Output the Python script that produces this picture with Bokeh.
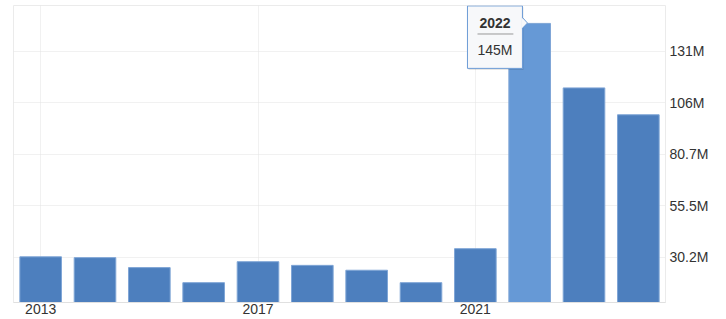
from bokeh.plotting import figure
from bokeh.models import FixedTicker, ColumnDataSource, Range1d
from bokeh.core.properties import value
from bokeh.embed import file_html
from bokeh.resources import INLINE

# ---- data (millions) ----
years = [2013, 2014, 2015, 2016, 2017, 2018, 2019, 2020, 2021, 2022, 2023, 2024]
values = [30.3, 29.9, 25.0, 17.6, 27.9, 26.1, 23.7, 17.6, 34.3, 145.0, 113.3, 100.1]
highlight_year = 2022
x_ticks = [2013, 2017, 2021]
y_ticks = [30.2, 55.45, 80.7, 105.95, 131.2]
y_tick_labels = ["30.2M", "55.5M", "80.7M", "106M", "131M"]

BAR = "#4d7fbe"
BAR_HI = "#6699d6"
FONT = "Liberation Sans"
TXT = "#333333"

colors = [BAR_HI if y == highlight_year else BAR for y in years]
src = ColumnDataSource(dict(year=years, value=values, color=colors))

p = figure(width=726, height=319,
           x_range=Range1d(2012.5, 2024.5), y_range=Range1d(7.85, 153.8),
           y_axis_location="right", output_backend="svg", toolbar_location=None,
           min_border_left=13, min_border_top=5, min_border_right=61, min_border_bottom=17)

p.vbar(x="year", top="value", bottom=0, width=0.766, source=src,
       fill_color="color", line_color="#7fa5d6", line_width=1)

# axes
p.xaxis.ticker = FixedTicker(ticks=x_ticks)
p.yaxis.ticker = FixedTicker(ticks=y_ticks)
p.yaxis.major_label_overrides = {t: l for t, l in zip(y_ticks, y_tick_labels)}
for ax in (p.xaxis, p.yaxis):
    ax.major_label_text_font = FONT
    ax.major_label_text_font_size = "14px"
    ax.major_label_text_color = TXT
    ax.major_tick_line_color = None
    ax.minor_tick_line_color = None
    ax.major_tick_out = 0
    ax.major_tick_in = 0
p.xaxis.axis_line_color = "#e0e0e0"
p.xaxis.major_label_standoff = 1
p.yaxis.axis_line_color = None
p.yaxis.major_label_standoff = 4

p.xgrid.ticker = FixedTicker(ticks=x_ticks)
p.ygrid.ticker = FixedTicker(ticks=y_ticks)
p.grid.grid_line_color = "#e3e3e3"
p.grid.grid_line_dash = "1 1"
p.outline_line_color = "#ebebeb"

# ---- tooltip anchored on the highlighted bar ----
hx = highlight_year
hv = values[years.index(highlight_year)]
box_l, box_r = hx - 1.145, hx - 0.133
box_t, box_b = hv + 8.6, hv - 22.1
# shadow
p.quad(left=[box_l + 0.02], right=[box_r + 0.02], top=[box_t - 0.6], bottom=[box_b - 0.8],
       fill_color="#000000", fill_alpha=0.10, line_color=None)
p.quad(left=[box_l], right=[box_r], top=[box_t], bottom=[box_b],
       fill_color="#f7f8fa", line_color="#6b9bd6", line_width=1)
# arrow
p.patch(x=[box_l + 1.0, hx - 0.04, box_l + 1.0], y=[hv + 2.9, hv + 0.2, hv - 2.5],
        fill_color="#f7f8fa", line_color=None)
p.line(x=[box_r, hx - 0.04, box_r], y=[hv + 2.9, hv + 0.2, hv - 2.5],
       line_color="#6b9bd6", line_width=1)
# texts
cx = (box_l + box_r) / 2
p.text(x=[cx], y=[hv], text=[str(hx)], text_font=value(FONT), text_font_size="14px",
       text_font_style="bold", text_align="center", text_baseline="middle", text_color=TXT)
p.line(x=[hx - 0.96, hx - 0.30], y=[hv - 5.2, hv - 5.2], line_color="#999999", line_width=1)
p.text(x=[cx], y=[hv - 13.3], text=[f"{round(hv)}M"], text_font=value(FONT), text_font_size="14px",
       text_align="center", text_baseline="middle", text_color=TXT)

open("out.html", "w").write(file_html(p, INLINE))
